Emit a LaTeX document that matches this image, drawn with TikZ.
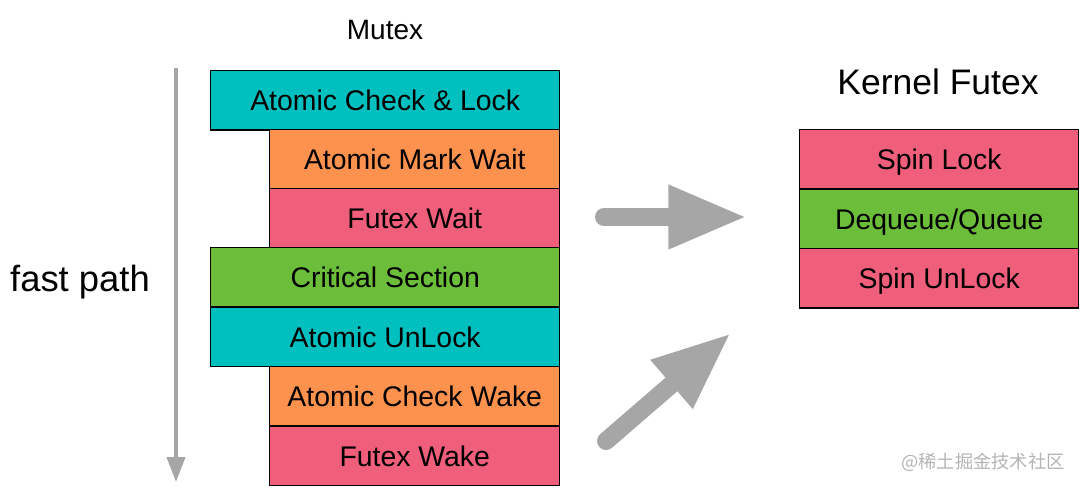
\documentclass[tikz,border=0pt]{standalone}
\usepackage{fontspec}
\setmainfont{Liberation Sans}
\newfontfamily\cjk{Noto Sans CJK SC}
\usetikzlibrary{arrows.meta}
\definecolor{mcyan}{RGB}{0,191,191}
\definecolor{morange}{RGB}{253,145,78}
\definecolor{mpink}{RGB}{239,94,122}
\definecolor{mgreen}{RGB}{107,189,58}
\definecolor{mgray}{RGB}{166,166,166}
\definecolor{wmgray}{RGB}{180,180,180}
\tikzset{
  blk/.style={draw=black, line width=1.1pt, anchor=north west, inner sep=0pt,
    minimum height=44.4pt, font=\fontsize{21.3}{24}\selectfont, text=black,
    text height=15.25pt, text depth=0pt},
  wide/.style={blk, minimum width=261.75pt},
  narrow/.style={blk, minimum width=217.5pt},
  kern/.style={blk, minimum width=209.25pt},
  bigarrow/.style={draw=mgray, line width=13.5pt, line cap=round,
    -{Triangle[length=59pt,width=44.5pt]}},
  title/.style={font=\fontsize{21}{24}\selectfont},
}
\begin{document}
\begin{tikzpicture}[x=0.75pt,y=-0.75pt]
\useasboundingbox (0,0) rectangle (1080,487);
% Mutex column
\node[wide,fill=mcyan]    (acl) at (210,70)  {Atomic Check \& Lock};
\node[narrow,fill=morange](amw) at (269,129) {Atomic Mark Wait};
\node[narrow,fill=mpink]  (fw)  at (269,187.5) {Futex Wait};
\node[wide,fill=mgreen]   (cs)  at (210,247) {Critical Section};
\node[wide,fill=mcyan]    (au)  at (210,306.5) {Atomic UnLock};
\node[narrow,fill=morange](acw) at (269,366) {Atomic Check Wake};
\node[narrow,fill=mpink]  (fwk) at (269,425.5) {Futex Wake};
% Kernel column
\node[kern,fill=mpink]  (sl)  at (799,129) {Spin Lock};
\node[kern,fill=mgreen] (dq)  at (799,188.5) {Dequeue/Queue};
\node[kern,fill=mpink]  (su)  at (799,248) {Spin UnLock};
% titles
\node[title] (mt) at (385,30) {Mutex};
\node[font=\fontsize{26.6}{30}\selectfont] (kt) at (938,82) {Kernel Futex};
\node[font=\fontsize{27.3}{30}\selectfont] (fp) at (80,282) {fast path};
% fast path arrow
\coordinate (fa) at (176,68);
\coordinate (fb) at (176,482);
\draw[mgray, line width=3pt, -{Triangle[length=18.75pt,width=13.5pt]}] (fa) -- (fb);
% big arrows
\coordinate (a1s) at (604,217);
\coordinate (a1e) at (747,217);
\coordinate (a2s) at (606,441);
\coordinate (a2e) at (731,333);
\draw[bigarrow] (a1s) -- (a1e);
\draw[bigarrow] (a2s) -- (a2e);
% watermark
\node[text=wmgray, font=\cjk\fontsize{13.7}{16}\selectfont] (wm) at (983,462) {@稀土掘金技术社区};
\end{tikzpicture}
\end{document}
